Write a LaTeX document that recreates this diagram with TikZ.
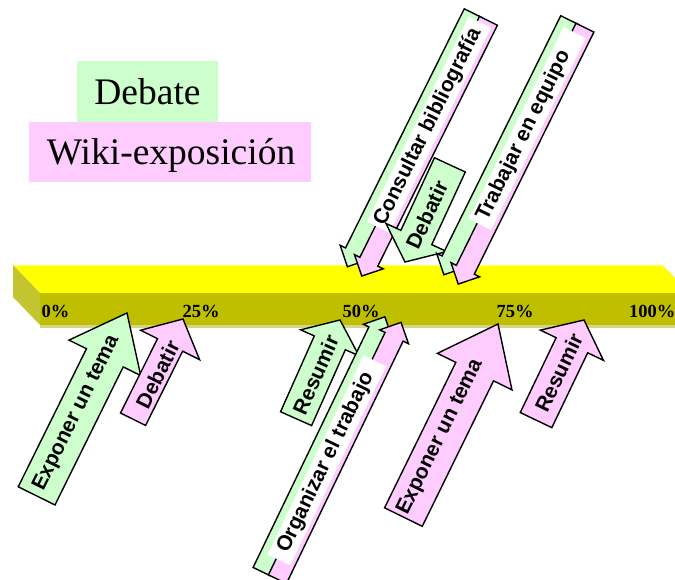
\documentclass[tikz,border=0pt]{standalone}
\usepackage{fontspec}
\setmainfont{Liberation Serif}
\newfontfamily\arialf{Liberation Sans}
\definecolor{lgreen}{HTML}{CCFFCC}
\definecolor{lpink}{HTML}{FFCCFF}
\definecolor{bartop}{HTML}{FFFF00}
\definecolor{bartopedge}{HTML}{FFFF80}
\definecolor{barfront}{HTML}{BFBF00}
\definecolor{barside}{HTML}{C4C430}
\definecolor{baredge}{HTML}{D6D68A}
\tikzset{
  arrowshape/.style={draw=black, line width=1.4pt, line join=miter},
  arrowtext/.style={font=\arialf\bfseries\fontsize{21}{25}\selectfont, inner sep=0pt},
  pct/.style={font=\bfseries\fontsize{18.5}{22}\selectfont, inner sep=0pt},
  legendtext/.style={font=\fontsize{37.5}{44}\selectfont, inner sep=0pt},
}
% single arrow, tip at local origin, pointing along local +x
% #1 length, #2 shaft width, #3 head width, #4 head length, #5 fill
\newcommand\sarrow[5]{%
  \draw[arrowshape,fill=#5] (0,0) -- (-#4,#3/2) -- (-#4,#2/2) -- (-#1,#2/2)
    -- (-#1,-#2/2) -- (-#4,-#2/2) -- (-#4,-#3/2) -- cycle;}
\begin{document}
\begin{tikzpicture}[x=1pt,y=-1pt]
\useasboundingbox (0,0) rectangle (675,580);
\clip (0,0) rectangle (675,580);

% ---------- bar ----------
\fill[bartop] (13,265) -- (662,265) -- (690,293) -- (40,293) -- cycle;
\fill[bartopedge] (13,265) rectangle (662,266.5);
\fill[barfront] (40,293) rectangle (690,325);
\fill[barside] (13,265) -- (40,293) -- (40,325) -- (13,297) -- cycle;
\fill[baredge] (40,325) rectangle (690,328);

\node[pct, anchor=base] (p0) at (55.5,317) {0\%};
\node[pct, anchor=base] (p25) at (201,317) {25\%};
\node[pct, anchor=base] (p50) at (361,317) {50\%};
\node[pct, anchor=base] (p75) at (515,317) {75\%};
\node[pct, anchor=base west] (p100) at (629,317) {100\%};

% ---------- legend ----------
\fill[lgreen] (77,61) rectangle (218,122);
\fill[lpink] (29,122) rectangle (311,182);
\node[legendtext, anchor=base] (legdeb) at (147.5,105) {Debate};
\node[legendtext, anchor=base] (legwiki) at (171,165) {Wiki-exposición};

% ---------- lower arrows ----------
\begin{scope}[shift={(127,313)}, rotate=63.7]
  \sarrow{204}{41}{80}{50}{lgreen}
  \node[arrowtext, rotate=63.7] (expg) at (-112,-1) {Exponer un tema};
\end{scope}
\begin{scope}[shift={(183,319)}, rotate=63.5]
  \sarrow{112}{28}{66}{29}{lpink}
  \node[arrowtext, rotate=63.5] (debp) at (-61,2) {Debatir};
\end{scope}
\begin{scope}[shift={(340,320)}, rotate=66]
  \sarrow{108}{34}{64}{25}{lgreen}
  \node[arrowtext, rotate=66] (resg) at (-60,0) {Resumir};
\end{scope}
% composite: Organizar el trabajo
\begin{scope}[shift={(392.5,320.5)}, rotate=64.3]
  \begin{scope}[shift={(0,-8.5)}]\sarrow{283}{20}{32}{16}{lgreen}\end{scope}
  \begin{scope}[shift={(2,8.5)}]\sarrow{285}{20}{32}{16}{lpink}\end{scope}
  \fill[white] (-265,-11) -- (-44,-11) -- (-44,14) -- (-265,14) -- cycle;
  \node[arrowtext, rotate=64.3] (org) at (-157,1.5) {Organizar el trabajo};
\end{scope}
\begin{scope}[shift={(498,324)}, rotate=63.9]
  \sarrow{215}{42}{83}{53}{lpink}
  \node[arrowtext, rotate=63.9] (expp) at (-127,-2) {Exponer un tema};
\end{scope}
\begin{scope}[shift={(584,320)}, rotate=64.4]
  \sarrow{111}{35}{70}{28}{lpink}
  \node[arrowtext, rotate=64.4] (resp) at (-58.5,0) {Resumir};
\end{scope}

% ---------- upper arrows ----------
% composite: Consultar bibliografia
\begin{scope}[shift={(355,270.5)}, rotate=243.6]
  \begin{scope}[shift={(0,8.5)}]\sarrow{283}{20}{32}{16}{lgreen}\end{scope}
  \begin{scope}[shift={(2,-8.5)}]\sarrow{285}{20}{32}{16}{lpink}\end{scope}
  \fill[white] (-278,-14) -- (-49,-14) -- (-49,11) -- (-278,11) -- cycle;
  \node[arrowtext, rotate=63.6] (cons) at (-161,-1.5) {Consultar bibliografía};
\end{scope}
\begin{scope}[shift={(405,262)}, rotate=245.2]
  \sarrow{107}{34}{67}{27}{lgreen}
  \node[arrowtext, rotate=65.2] (debg) at (-52,0) {Debatir};
\end{scope}
% composite: Trabajar en equipo
\begin{scope}[shift={(451.5,278.5)}, rotate=243.7]
  \begin{scope}[shift={(0,8.5)}]\sarrow{284}{20}{32}{16}{lgreen}\end{scope}
  \begin{scope}[shift={(2,-8.5)}]\sarrow{286}{20}{32}{16}{lpink}\end{scope}
  \fill[white] (-275,-14) -- (-61,-14) -- (-61,11) -- (-275,11) -- cycle;
  \node[arrowtext, rotate=63.7] (trab) at (-160,-1.5) {Trabajar en equipo};
\end{scope}
\end{tikzpicture}
\end{document}
